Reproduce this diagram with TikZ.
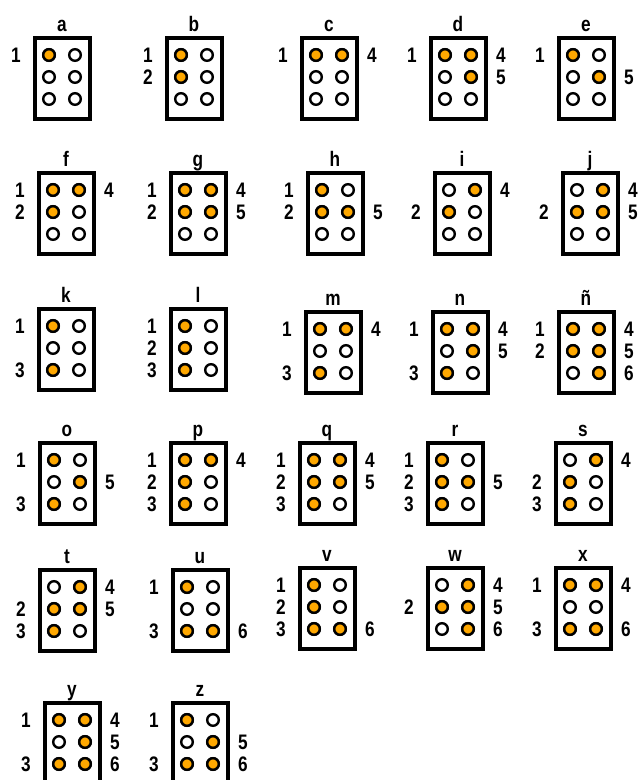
\documentclass[tikz,border=0pt]{standalone}
\usepackage{fontspec}
\newfontfamily\cellfont{Liberation Sans}[FakeStretch=0.82]
\usepackage{tikz}
\usetikzlibrary{calc, positioning}

\definecolor{dotorange}{RGB}{255,168,0}

\begin{document}
\begin{tikzpicture}[x=1pt, y=-1pt,
  cellbox/.style={draw=black, line width=3.2pt, fill=white},
  dotoff/.style={draw=black, line width=2.4pt, fill=white},
  doton/.style={draw=black, line width=2.4pt, fill=dotorange},
  letter/.style={font=\cellfont\bfseries\fontsize{21}{25}\selectfont, anchor=base, inner sep=0pt},
  dotnum/.style={font=\cellfont\bfseries\fontsize{21}{25}\selectfont, inner sep=0pt}]
\useasboundingbox (0,0) rectangle (639,780);
\fill[white] (0,0) rectangle (639,780);
\clip (0,0) rectangle (639,780);
% one braille cell per letter: box corner x/y, letter, raised dots
\foreach \bx/\by/\ch/\on [count=\i] in {
  35/38/a/{1}, 167/38/b/{1,2}, 302/38/c/{1,4}, 431/38/d/{1,4,5}, 559/38/e/{1,5},
  39/173/f/{1,2,4}, 171/173/g/{1,2,4,5}, 308/173/h/{1,2,5}, 435/173/i/{2,4}, 563/173/j/{2,4,5},
  39/309/k/{1,3}, 171/309/l/{1,2,3}, 306/312/m/{1,3,4}, 433/312/n/{1,3,4,5}, 559/312/ñ/{1,2,4,5,6},
  40/443/o/{1,3,5}, 171/443/p/{1,2,3,4}, 300/443/q/{1,2,3,4,5}, 428/443/r/{1,2,3,5}, 556/443/s/{2,3,4},
  40/570/t/{2,3,4,5}, 173/570/u/{1,3,6}, 300/568/v/{1,2,3,6}, 428/568/w/{2,4,5,6}, 556/568/x/{1,3,4,6},
  45/703/y/{1,3,4,5,6}, 173/703/z/{1,3,5,6}} {
\begin{scope}[shift={(\bx,\by)}]
  \draw[cellbox] (0,0) rectangle (55,81);
  \node[letter] (ch\i) at (27,-7) {\ch};
  \foreach \d in {1,...,6} {
    \pgfmathsetmacro\dx{\d>3 ? 40 : 14}
    \pgfmathsetmacro\dy{17+22*mod(\d-1,3)}
    \draw[dotoff] (\dx,\dy) circle (5.8);
  }
  \foreach \d in \on {
    \pgfmathsetmacro\dx{\d>3 ? 40 : 14}
    \pgfmathsetmacro\dy{17+22*mod(\d-1,3)}
    \pgfmathsetmacro\nx{\d>3 ? 70 : -19}
    \draw[doton] (\dx,\dy) circle (5.8);
    \node[dotnum] (num\i-\d) at (\nx,\dy) {\d};
  }
\end{scope}
}
\end{tikzpicture}
\end{document}
